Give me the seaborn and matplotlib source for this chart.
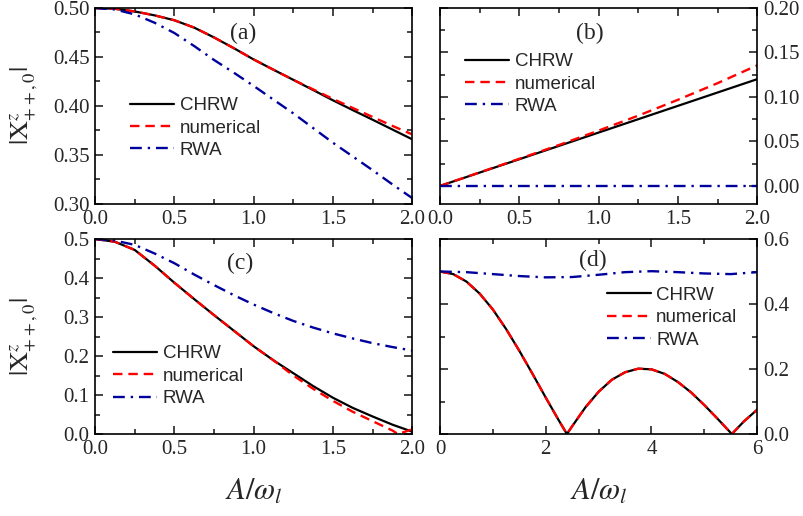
import matplotlib
matplotlib.use("Agg")
import matplotlib.pyplot as plt
from matplotlib.ticker import MultipleLocator, FormatStrFormatter
import seaborn as sns
import pandas as pd

# ---- data ----
x_ac = [0.0, 0.125, 0.25, 0.375, 0.5, 0.625, 0.75, 0.875, 1.0,
        1.125, 1.25, 1.375, 1.5, 1.625, 1.75, 1.875, 2.0]

# panel (a)
chrw_a = [0.5000, 0.4992, 0.4965, 0.4925, 0.4875, 0.4800, 0.4700, 0.4590, 0.4475,
          0.4370, 0.4267, 0.4163, 0.4058, 0.3958, 0.3860, 0.3760, 0.3660]
num_a = [0.5000, 0.4992, 0.4965, 0.4925, 0.4875, 0.4800, 0.4700, 0.4590, 0.4475,
         0.4370, 0.4267, 0.4170, 0.4072, 0.3980, 0.3888, 0.3797, 0.3710]
rwa_a = [0.5000, 0.4985, 0.4935, 0.4850, 0.4745, 0.4612, 0.4470, 0.4340, 0.4205,
         0.4065, 0.3925, 0.3775, 0.3625, 0.3485, 0.3345, 0.3200, 0.3060]

# panel (b)
x_b = [0.0, 0.25, 0.5, 0.75, 1.0, 1.25, 1.5, 1.75, 2.0]
chrw_b = [0.0, 0.015, 0.030, 0.045, 0.060, 0.075, 0.090, 0.105, 0.120]
num_b = [0.0, 0.0152, 0.0305, 0.046, 0.0622, 0.079, 0.0968, 0.1155, 0.1355]
rwa_b = [0.0, 0.0, 0.0, 0.0, 0.0, 0.0, 0.0, 0.0, 0.0]

# panel (c)
chrw_c = [0.500, 0.493, 0.472, 0.432, 0.388, 0.346, 0.305, 0.265, 0.225,
          0.189, 0.156, 0.123, 0.093, 0.067, 0.045, 0.024, 0.006]
x_c_num = [0.0, 0.125, 0.25, 0.375, 0.5, 0.625, 0.75, 0.875, 1.0,
           1.125, 1.25, 1.375, 1.5, 1.625, 1.75, 1.875, 1.91, 2.0]
num_c = [0.500, 0.493, 0.472, 0.432, 0.388, 0.346, 0.305, 0.265, 0.225,
         0.189, 0.150, 0.116, 0.085, 0.057, 0.033, 0.009, 0.0, 0.012]
rwa_c = [0.500, 0.496, 0.485, 0.463, 0.438, 0.409, 0.382, 0.356, 0.332,
         0.310, 0.290, 0.273, 0.258, 0.245, 0.233, 0.223, 0.214]

# panel (d)
x_d = [0.0, 0.25, 0.5, 0.75, 1.0, 1.25, 1.5, 1.75, 2.0, 2.25, 2.40, 2.5,
       2.75, 3.0, 3.25, 3.5, 3.75, 4.0, 4.25, 4.5, 4.75, 5.0, 5.25, 5.52,
       5.75, 6.0]
chrw_d = [0.500, 0.492, 0.469, 0.432, 0.383, 0.323, 0.256, 0.185, 0.112, 0.041,
          0.0, 0.024, 0.082, 0.130, 0.167, 0.190, 0.201, 0.199, 0.185, 0.160,
          0.128, 0.089, 0.047, 0.0, 0.039, 0.075]
num_d = chrw_d
x_d_rwa = [0.0, 0.5, 1.0, 1.5, 2.0, 2.5, 3.0, 3.5, 4.0, 4.5, 5.0, 5.5, 6.0]
rwa_d = [0.500, 0.498, 0.492, 0.486, 0.482, 0.483, 0.490, 0.498, 0.501,
         0.498, 0.494, 0.492, 0.498]

labels = ["CHRW", "numerical", "RWA"]

sns.set_style("ticks")
plt.rcParams["font.family"] = ["Liberation Serif", "DejaVu Serif"]
plt.rcParams["mathtext.fontset"] = "stix"
plt.rcParams["axes.linewidth"] = 1.2

fig = plt.figure(figsize=(8.04, 5.16), dpi=100)
L, R = 0.1182, 0.5473
W = 0.3945
T_B, T_H = 0.6047, 0.3798
B_B, B_H = 0.1589, 0.3779
ax_a = fig.add_axes([L, T_B, W, T_H])
ax_b = fig.add_axes([R, T_B, W, T_H])
ax_c = fig.add_axes([L, B_B, W, B_H])
ax_d = fig.add_axes([R, B_B, W, B_H])

red_dash = (0, (4, 2.5))
navy_dd = (0, (5, 2.5, 1, 2.5))
navy = "#00009C"


def draw(ax, xs, chrw, xn, num, xr, rwa):
    sns.lineplot(x=xs, y=chrw, ax=ax, color="black", lw=1.6, label=labels[0])
    sns.lineplot(x=xn, y=num, ax=ax, color="#FF0000", lw=1.7,
                 linestyle=red_dash, label=labels[1])
    sns.lineplot(x=xr, y=rwa, ax=ax, color=navy, lw=1.7,
                 linestyle=navy_dd, label=labels[2])


draw(ax_a, x_ac, chrw_a, x_ac, num_a, x_ac, rwa_a)
draw(ax_b, x_b, chrw_b, x_b, num_b, x_b, rwa_b)
draw(ax_c, x_ac, chrw_c, x_c_num, num_c, x_ac, rwa_c)
draw(ax_d, x_d, chrw_d, x_d, num_d, x_d_rwa, rwa_d)

# axes ranges and ticks
ax_a.set_ylim(0.30, 0.50)
ax_a.yaxis.set_major_locator(MultipleLocator(0.05))
ax_a.yaxis.set_minor_locator(MultipleLocator(0.025))
ax_b.set_ylim(-0.0203, 0.20)
ax_b.yaxis.set_major_locator(MultipleLocator(0.05))
ax_b.yaxis.set_minor_locator(MultipleLocator(0.025))
ax_c.set_ylim(0.0, 0.5)
ax_c.yaxis.set_major_locator(MultipleLocator(0.1))
ax_c.yaxis.set_minor_locator(MultipleLocator(0.05))
ax_d.set_ylim(0.0, 0.6)
ax_d.yaxis.set_major_locator(MultipleLocator(0.2))
ax_d.yaxis.set_minor_locator(MultipleLocator(0.1))

for ax in (ax_a, ax_b, ax_c):
    ax.set_xlim(0, 2)
    ax.xaxis.set_major_locator(MultipleLocator(0.5))
    ax.xaxis.set_minor_locator(MultipleLocator(0.25))
    ax.xaxis.set_major_formatter(FormatStrFormatter("%.1f"))
ax_d.set_xlim(0, 6)
ax_d.xaxis.set_major_locator(MultipleLocator(2))
ax_d.xaxis.set_minor_locator(MultipleLocator(1))

ax_a.yaxis.set_major_formatter(FormatStrFormatter("%.2f"))
ax_b.yaxis.set_major_formatter(FormatStrFormatter("%.2f"))
ax_c.yaxis.set_major_formatter(FormatStrFormatter("%.1f"))
ax_d.yaxis.set_major_formatter(FormatStrFormatter("%.1f"))

for ax in (ax_a, ax_b, ax_c, ax_d):
    ax.tick_params(which="both", direction="in", top=True, right=True,
                   left=True, bottom=True, labelsize=15, width=1.2, pad=4)
    ax.tick_params(which="major", length=6)
    ax.tick_params(which="minor", length=3.5)
    for s in ax.spines.values():
        s.set_color("black")
for ax in (ax_b, ax_d):
    ax.tick_params(which="both", labelleft=False, labelright=True)

ylab = r"$|\mathrm{X}^{z}_{++,0}|$"
for ax in (ax_a, ax_c):
    ax.set_ylabel(ylab, fontsize=19)
    ax.yaxis.set_label_coords(-0.175, 0.5)
for ax in (ax_c, ax_d):
    ax.set_xlabel(r"$A/\omega_l$", fontsize=22)
    ax.xaxis.set_label_coords(0.5, -0.225)

# panel tags
for ax, tag, px, py in ((ax_a, "(a)", 0.467, 0.87), (ax_b, "(b)", 0.472, 0.87),
                        (ax_c, "(c)", 0.457, 0.877), (ax_d, "(d)", 0.481, 0.89)):
    ax.text(px, py, tag, transform=ax.transAxes, ha="center", va="center",
            fontsize=17)

# legends
for ax, lx, ly in ((ax_a, 0.11, 0.545), (ax_b, 0.079, 0.77),
                   (ax_c, 0.057, 0.455), (ax_d, 0.525, 0.755)):
    ax.legend(loc="upper left", bbox_to_anchor=(lx, ly), frameon=False,
              prop={"family": "Liberation Sans", "size": 13.5},
              handlelength=2.35, handletextpad=0.3, labelspacing=0.28,
              borderpad=0, borderaxespad=0)

fig.savefig("out.png", dpi=100)
